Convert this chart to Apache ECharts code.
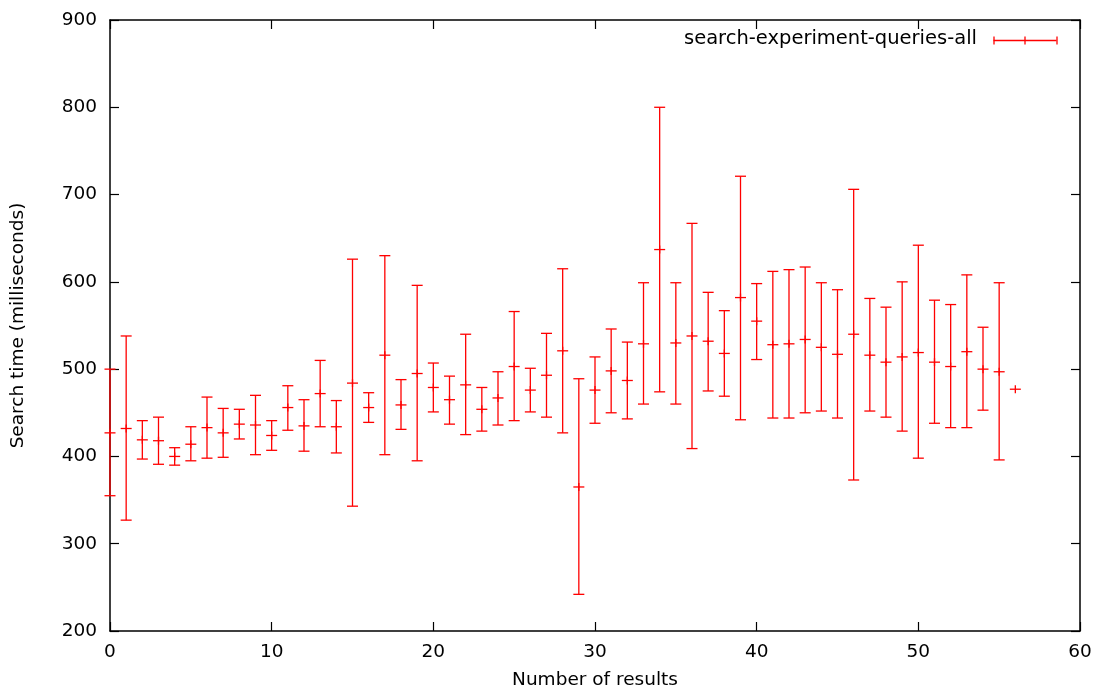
<!DOCTYPE html>
<html>
<head>
<meta charset="utf-8">
<script src="https://cdn.jsdelivr.net/npm/echarts@6/dist/echarts.min.js"></script>
<style>html,body{margin:0;padding:0;background:#fff;}#c{width:1097px;height:689px;}</style>
</head>
<body>
<div id="c"></div>
<script>
// Data
const xValues = [0,1,2,3,4,5,6,7,8,9,10,11,12,13,14,15,16,17,18,19,20,21,22,23,24,25,26,27,28,29,30,31,32,33,34,35,36,37,38,39,40,41,42,43,44,45,46,47,48,49,50,51,52,53,54,55,56];
const means = [427,432,419,418,400,414,433,427,437,436,424,456,435,472,434,484,456,516,459,495,479,465,482,454,467,503,476,493,521,365,476,498,487,529,637,530,538,532,518,582,555,528,529,534,525,517,540,516,508,514,519,508,503,520,500,497,477];
const lows  = [355,327,397,391,390,395,398,399,420,402,407,430,406,434,404,343,439,402,431,395,451,437,425,429,436,441,451,445,427,242,438,450,443,460,474,460,409,475,469,442,511,444,444,450,452,444,373,452,445,429,398,438,433,433,453,396,477];
const highs = [500,538,441,445,410,434,468,455,454,470,441,481,465,510,464,626,473,630,488,596,507,492,540,479,497,566,501,541,615,489,514,546,531,599,800,599,667,588,567,721,598,612,614,617,599,591,706,581,571,600,642,579,574,608,548,599,477];
const xTicks = [0,10,20,30,40,50,60];
const yTicks = [200,300,400,500,600,700,800,900];
const seriesName = 'search-experiment-queries-all';
const xTitle = 'Number of results';
const yTitle = 'Search time (milliseconds)';

const data = xValues.map((x, i) => [x, means[i], lows[i], highs[i]]);
const RED = '#ff0000';
const FONT = 'DejaVu Sans';

const chart = echarts.init(document.getElementById('c'), null, {renderer: 'canvas'});

function renderItem(params, api) {
  const x = api.value(0);
  const pm = api.coord([x, api.value(1)]);
  const pl = api.coord([x, api.value(2)]);
  const ph = api.coord([x, api.value(3)]);
  const cw = 5.5, mw = 5.5, mh = 4;
  const st = {stroke: RED, lineWidth: 1.3, fill: null};
  const children = [];
  if (api.value(3) !== api.value(2)) {
    children.push({type: 'line', shape: {x1: pl[0], y1: pl[1], x2: ph[0], y2: ph[1]}, style: st});
    children.push({type: 'line', shape: {x1: pl[0]-cw, y1: pl[1], x2: pl[0]+cw, y2: pl[1]}, style: st});
    children.push({type: 'line', shape: {x1: ph[0]-cw, y1: ph[1], x2: ph[0]+cw, y2: ph[1]}, style: st});
  }
  children.push({type: 'line', shape: {x1: pm[0]-mw, y1: pm[1], x2: pm[0]+mw, y2: pm[1]}, style: st});
  children.push({type: 'line', shape: {x1: pm[0], y1: pm[1]-mh, x2: pm[0], y2: pm[1]+mh}, style: st});
  return {type: 'group', children: children};
}

const axisLine = {show: true, onZero: false, lineStyle: {color: '#000', width: 1.5}};
const axisTick = {show: true, inside: true, length: 9, lineStyle: {color: '#000', width: 1.2}};
const labelStyle = {color: '#000', fontFamily: FONT, fontSize: 18.5};

const option = {
  backgroundColor: '#fff',
  animation: false,
  grid: {left: 110, right: 17, top: 20, bottom: 58, containLabel: false, outerBoundsMode: 'none'},
  xAxis: [
    {type: 'value', position: 'bottom', min: xTicks[0], max: xTicks[xTicks.length-1], interval: 10,
     axisLine: axisLine, axisTick: axisTick, splitLine: {show: false},
     axisLabel: Object.assign({margin: 12}, labelStyle),
     name: xTitle, nameLocation: 'middle', nameGap: 40,
     nameTextStyle: {color: '#000', fontFamily: FONT, fontSize: 18.5}},
    {type: 'value', position: 'top', min: xTicks[0], max: xTicks[xTicks.length-1], interval: 10,
     axisLine: axisLine, axisTick: axisTick, splitLine: {show: false}, axisLabel: {show: false}}
  ],
  yAxis: [
    {type: 'value', position: 'left', min: yTicks[0], max: yTicks[yTicks.length-1], interval: 100,
     axisLine: axisLine, axisTick: axisTick, splitLine: {show: false},
     axisLabel: Object.assign({margin: 13}, labelStyle),
     name: yTitle, nameLocation: 'middle', nameGap: 82, nameRotate: 90,
     nameTextStyle: {color: '#000', fontFamily: FONT, fontSize: 18.5}},
    {type: 'value', position: 'right', min: yTicks[0], max: yTicks[yTicks.length-1], interval: 100,
     axisLine: axisLine, axisTick: axisTick, splitLine: {show: false}, axisLabel: {show: false}}
  ],
  graphic: [
    {type: 'text', right: 1097 - 977, top: 29,
     style: {text: seriesName, fill: '#000', font: '19.5px "DejaVu Sans"'}},
    {type: 'group', left: 991, top: 34, children: [
      {type: 'line', shape: {x1: 0, y1: 4.5, x2: 63, y2: 4.5}, style: {stroke: RED, lineWidth: 1.3}},
      {type: 'line', shape: {x1: 0.5, y1: 0.5, x2: 0.5, y2: 8.5}, style: {stroke: RED, lineWidth: 1.3}},
      {type: 'line', shape: {x1: 63.5, y1: 0.5, x2: 63.5, y2: 8.5}, style: {stroke: RED, lineWidth: 1.3}},
      {type: 'line', shape: {x1: 31.5, y1: 0.5, x2: 31.5, y2: 8.5}, style: {stroke: RED, lineWidth: 1.3}}
    ]}
  ],
  series: [{
    name: seriesName,
    type: 'custom',
    xAxisIndex: 0, yAxisIndex: 0,
    renderItem: renderItem,
    encode: {x: 0, y: [1, 2, 3]},
    data: data,
    clip: false,
    z: 1
  }]
};
chart.setOption(option);
</script>
</body>
</html>
